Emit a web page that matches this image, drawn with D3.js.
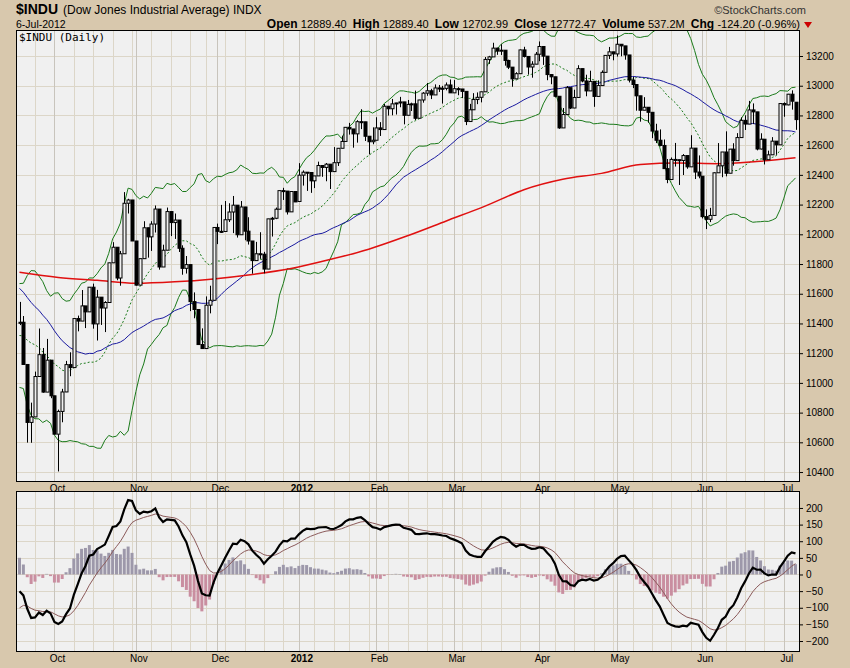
<!DOCTYPE html>
<html><head><meta charset="utf-8">
<script src="https://cdn.jsdelivr.net/npm/d3@7"></script>
<style>body{margin:0;background:#d8c8ad;font-family:Arial,"Liberation Sans",sans-serif}</style>
</head><body><svg id="c" width="850" height="668"></svg>
<script>
// trading days per month (2011-09 .. 2012-07)
const months = [
 ["2011-09",[20,21,22,23,26,27,28,29,30]],
 ["2011-10",[3,4,5,6,7,10,11,12,13,14,17,18,19,20,21,24,25,26,27,28,31]],
 ["2011-11",[1,2,3,4,7,8,9,10,11,14,15,16,17,18,21,22,23,25,28,29,30]],
 ["2011-12",[1,2,5,6,7,8,9,12,13,14,15,16,19,20,21,22,23,27,28,29,30]],
 ["2012-01",[3,4,5,6,9,10,11,12,13,17,18,19,20,23,24,25,26,27,30,31]],
 ["2012-02",[1,2,3,6,7,8,9,10,13,14,15,16,17,21,22,23,24,27,28,29]],
 ["2012-03",[1,2,5,6,7,8,9,12,13,14,15,16,19,20,21,22,23,26,27,28,29,30]],
 ["2012-04",[2,3,4,5,9,10,11,12,13,16,17,18,19,20,23,24,25,26,27,30]],
 ["2012-05",[1,2,3,4,7,8,9,10,11,14,15,16,17,18,21,22,23,24,25,29,30,31]],
 ["2012-06",[1,4,5,6,7,8,11,12,13,14,15,18,19,20,21,22,25,26,27,28,29]],
 ["2012-07",[2,3,5,6]]
];
const monthLabels = ["Oct","Nov","Dec","2012","Feb","Mar","Apr","May","Jun","Jul"];
// warm-up closes (Jul 1 - Sep 19 2011), used only for indicators
const warmup = [12582,12570,12627,12720,12657,12505,12447,12492,12437,12480,12385,12588,12572,12724,12681,12592,12501,12303,12241,12143,
 12132,11866,11896,11383,11444,10809,11239,10719,11143,11269,11482,11405,11410,10990,10817,10854,11176,11320,11149,11284,11539,11559,11613,
 11494,11240,11139,11414,11295,10992,11061,11105,11247,11433,11509,11401];
const closes = [11408,11124,10734,10771,11043,11190,10938,11153,10913,
 10655,10808,10939,11123,11103,11433,11416,11518,11478,11644,11397,11577,11504,11541,11808,11913,11706,11869,12209,12231,11955,
 11658,11836,12044,11983,12069,12170,11780,11893,12153,12079,12096,11906,11771,11796,11547,11494,11258,11231,11523,11556,12046,
 12020,12019,12098,12150,12196,11997,12184,12021,11955,11823,11869,11866,11766,12104,12108,12169,12294,12291,12151,12288,12218,
 12398,12418,12416,12360,12393,12463,12450,12472,12422,12482,12579,12625,12720,12709,12676,12758,12757,12660,12623,12633,
 12716,12705,12862,12845,12878,12884,12891,12801,12874,12878,12781,12904,12950,12966,12938,12985,12983,12982,13005,12952,
 12980,12978,12962,12759,12838,12907,12922,12959,13177,13194,13253,13233,13239,13170,13125,13046,13081,13241,13197,13126,13145,13212,
 13264,13199,13075,13060,12929,12716,12806,12987,12850,12921,13115,13032,12965,13029,12928,13001,13090,13204,13228,13214,
 13279,13268,13207,13038,13008,12932,12835,12855,12821,12695,12633,12598,12442,12369,12504,12502,12497,12530,12454,12580,12419,12393,
 12119,12101,12127,12414,12461,12554,12411,12573,12496,12651,12767,12742,12837,12824,12574,12640,12502,12535,12627,12602,12880,
 12871,12943,12896,12772];
const opens = [11401,11408,11124,10734,10771,11043,11190,10938,11153,
 10913,10655,10808,10939,11123,11103,11433,11416,11518,11478,11644,11397,11577,11504,11541,11808,11913,11706,11869,12209,12231,
 11955,11658,11836,12044,11983,12069,12170,11780,11893,12153,12079,12096,11906,11771,11796,11547,11494,11258,11231,11523,11556,
 12046,12020,12019,12098,12150,12196,11997,12184,12021,11955,11823,11869,11866,11766,12104,12108,12169,12294,12291,12151,12288,
 12221,12398,12418,12416,12360,12393,12463,12450,12472,12422,12482,12579,12625,12720,12709,12676,12758,12757,12660,12623,
 12633,12716,12705,12862,12845,12878,12884,12891,12801,12874,12878,12781,12904,12950,12966,12938,12985,12983,12982,13005,
 12952,12980,12978,12962,12759,12838,12907,12922,12959,13177,13194,13253,13233,13239,13170,13125,13046,13081,13241,13197,13126,13145,
 13212,13264,13199,13075,13060,12929,12716,12806,12987,12850,12921,13115,13032,12965,13029,12928,13001,13090,13204,13228,
 13214,13279,13268,13207,13038,13008,12932,12835,12855,12821,12695,12633,12598,12442,12369,12504,12502,12497,12530,12454,12580,12419,
 12391,12119,12101,12127,12414,12461,12554,12411,12573,12496,12651,12767,12742,12837,12824,12574,12640,12502,12535,12627,12602,
 12880,12871,12943,12889];
const highs = [11545,11450,11124,10867,11076,11366,11235,11296,11154,
 10913,10820,10960,11148,11206,11434,11453,11625,11518,11645,11668,11626,11577,11550,11809,11947,11913,11888,12284,12239,12231,
 11955,11836,12088,12044,12088,12194,12170,11930,12180,12153,12140,12096,11926,11854,11796,11609,11494,11367,11582,11654,12046,
 12072,12198,12224,12209,12258,12196,12224,12184,12115,11955,11949,12014,11882,12104,12117,12180,12294,12313,12291,12288,12288,
 12479,12430,12418,12417,12393,12489,12463,12480,12472,12587,12579,12663,12720,12750,12709,12768,12842,12757,12660,12720,
 12788,12755,12877,12862,12911,12885,12925,12891,12904,12886,12967,12905,12957,13018,12979,13009,13005,12999,13022,13042,
 13038,12990,12978,12962,12878,12950,12955,12960,13193,13201,13289,13256,13279,13239,13175,13125,13091,13244,13262,13197,13165,13227,
 13298,13264,13199,13075,13060,12929,12850,12998,12987,12973,13138,13115,13074,13101,13029,13036,13103,13205,13261,13228,
 13338,13279,13268,13207,13060,13008,12932,12923,12855,12821,12744,12706,12638,12507,12517,12615,12502,12540,12530,12667,12580,12531,
 12391,12168,12178,12417,12614,12554,12693,12575,12613,12681,12787,12801,12898,12881,12824,12680,12640,12563,12654,12627,12880,
 12888,12945,12969,12889];
const lows = [11389,11121,10598,10597,10770,11043,10934,10938,10897,
 10654,10404,10735,10938,11045,11104,11347,11416,11369,11478,11365,11285,11390,11342,11541,11808,11691,11654,11869,12140,11955,
 11655,11658,11836,11843,11888,12012,11762,11780,11893,11988,11969,11881,11728,11736,11483,11435,11258,11231,11231,11468,11556,
 11934,12009,12019,12083,12008,11978,11997,11960,11931,11735,11823,11835,11737,11766,11985,12102,12169,12231,12133,12151,12217,
 12221,12328,12292,12279,12311,12393,12387,12357,12305,12422,12460,12579,12623,12671,12583,12617,12708,12628,12538,12606,
 12633,12662,12705,12799,12801,12806,12855,12740,12801,12830,12769,12781,12886,12932,12910,12938,12958,12880,12969,12952,
 12952,12936,12917,12735,12759,12838,12876,12888,12959,13147,13194,13208,13207,13135,13112,12993,13046,13081,13190,13075,13054,13145,
 13165,13140,13037,13010,12921,12710,12716,12806,12843,12849,12921,13023,12929,12965,12858,12928,13001,13088,13180,13171,
 13196,13198,13175,13022,12984,12832,12758,12835,12751,12647,12614,12592,12442,12344,12369,12456,12332,12399,12441,12454,12372,12377,
 12107,12035,12082,12127,12414,12384,12390,12411,12462,12496,12651,12702,12742,12742,12565,12571,12470,12502,12535,12535,12602,
 12791,12868,12839,12703];
const ma200Idx = [0,10,20,30,40,50,60,70,80,90,100,110,120,130,140,150,160,170,180,190,200];
const ma200Val = [11745,11710,11690,11670,11680,11700,11730,11770,11830,11900,11990,12090,12190,12300,12370,12410,12470,12480,12475,12490,12515];
const priceTicks = d3.range(10400,13201,200);
const macdTicks = [200,150,100,50,0,-50,-100,-150,-200];

const dates=[]; months.forEach(([m,ds])=>ds.forEach(d=>dates.push(new Date(m+"-"+String(d).padStart(2,"0")+"T12:00"))));
const N = closes.length;
const all = warmup.concat(closes), W = warmup.length;
function sma(arr,n,i){let s=0;for(let k=i-n+1;k<=i;k++)s+=arr[k];return s/n;}
const ma20=[],ma50=[],bbU=[],bbL=[];
for(let i=0;i<N;i++){const j=i+W;const m=sma(all,20,j);let v=0;for(let k=j-19;k<=j;k++)v+=(all[k]-m)**2;const sd=Math.sqrt(v/20);
 ma20.push(m);bbU.push(m+2*sd);bbL.push(m-2*sd);ma50.push(sma(all,50,j));}
function ema(arr,n){const a=2/(n+1);const out=[arr[0]];for(let i=1;i<arr.length;i++)out.push(a*arr[i]+(1-a)*out[i-1]);return out;}
const e12=ema(all,12),e26=ema(all,26);const macdAll=e12.map((v,i)=>v-e26[i]);const sigAll=ema(macdAll,9);
const macd=macdAll.slice(W),sig=sigAll.slice(W),hist=macd.map((v,i)=>v-sig[i]);

const svg=d3.select("#c");
const L=16,R=800,T1=30,B1=482,T2=491,B2=652;
const x=d3.scaleLinear().domain([0,N-1]).range([19.5,795.5]);
const y=d3.scaleLinear().domain([10333,13375]).range([B1,T1]);
const y2=d3.scaleLinear().domain([-233,251]).range([B2,T2]);

// header
const t1=svg.append("text").attr("x",16).attr("y",14).attr("font-size",14).attr("font-weight","bold").text("$INDU");
const w1=t1.node().getComputedTextLength();
svg.append("text").attr("x",16+w1+5).attr("y",14).attr("font-size",12).text("(Dow Jones Industrial Average) INDX");
svg.append("text").attr("x",16).attr("y",28).attr("font-size",10.5).text("6-Jul-2012");
svg.append("text").attr("x",806).attr("y",14).attr("font-size",11).attr("text-anchor","end").attr("fill","#333").text("©StockCharts.com");
const info=svg.append("text").attr("x",800).attr("y",28).attr("font-size",11).attr("text-anchor","end");
[["Open ",1],["12889.40  ",0],["High ",1],["12889.40  ",0],["Low ",1],["12702.99  ",0],["Close ",1],["12772.47  ",0],["Volume ",1],["537.2M  ",0],["Chg ",1],["-124.20 (-0.96%)",0]]
 .forEach(([t,b])=>info.append("tspan").attr("font-weight",b?"bold":"normal").attr("font-size",b?12:11).attr("xml:space","preserve").text(t));
svg.append("path").attr("d","M804,22 L812,22 L808,28 Z").attr("fill","#c00");

function panel(t,b,yy,ticks,fmt){
 svg.append("rect").attr("x",L).attr("y",t).attr("width",R-L).attr("height",b-t).attr("fill","#f0f0f0");
 const g=svg.append("g");
 ticks.forEach(v=>g.append("line").attr("x1",L).attr("x2",R).attr("y1",Math.round(yy(v))+.5).attr("y2",Math.round(yy(v))+.5).attr("stroke","#dcd6c8"));
 for(let i=0;i<N;i++){const d=dates[i],p=i?dates[i-1]:null;
  const newMonth=!p||p.getMonth()!==d.getMonth(), newWeek=p&&(d.getDay()<p.getDay()||d-p>4*864e5);
  if(newMonth&&i>0) g.append("line").attr("x1",Math.round(x(i))+.5).attr("x2",Math.round(x(i))+.5).attr("y1",t).attr("y2",b).attr("stroke","#c8c4bc");
  else if(newWeek) g.append("line").attr("x1",Math.round(x(i))+.5).attr("x2",Math.round(x(i))+.5).attr("y1",t).attr("y2",b).attr("stroke","#dcd6c8");
 }
 const ax=svg.append("g").attr("transform",`translate(${R},0)`).call(d3.axisRight(yy).tickValues(ticks).tickSize(3).tickFormat(fmt));
 ax.select(".domain").remove();ax.selectAll("text").attr("font-size",10).attr("fill","#000").attr("font-family","Arial");
 ax.selectAll("line").attr("stroke","#000");
}
panel(T1,B1,y,priceTicks,d3.format("d"));
panel(T2,B2,y2,macdTicks,d3.format("d"));

// month labels
const mStarts=[];for(let i=1;i<N;i++)if(dates[i].getMonth()!==dates[i-1].getMonth())mStarts.push(i);
mStarts.forEach((i,k)=>{[B1+10,B2+10].forEach(yy=>svg.append("text").attr("x",x(i)+3).attr("y",yy).attr("font-size",10)
 .attr("font-weight",monthLabels[k]==="2012"?"bold":"normal").attr("text-anchor","middle").attr("font-family","Arial").text(monthLabels[k]));});

const line=(arr,sc)=>d3.line().x((d,i)=>x(i)).y(d=>sc(d))(arr);
svg.append("clipPath").attr("id","cp").append("rect").attr("x",L).attr("y",T1).attr("width",R-L).attr("height",B1-T1);
const mg=svg.append("g").attr("clip-path","url(#cp)");
mg.append("path").attr("d",line(bbU,y)).attr("fill","none").attr("stroke","#1a7a1a").attr("stroke-width",1);
mg.append("path").attr("d",line(bbL,y)).attr("fill","none").attr("stroke","#1a7a1a").attr("stroke-width",1);
mg.append("path").attr("d",line(ma20,y)).attr("fill","none").attr("stroke","#1a7a1a").attr("stroke-dasharray","2,2");
mg.append("path").attr("d",line(ma50,y)).attr("fill","none").attr("stroke","#1a1aa0");
mg.append("path").attr("d",d3.line().curve(d3.curveMonotoneX).x((d,k)=>x(ma200Idx[k])).y(d=>y(d))(ma200Val)).attr("fill","none").attr("stroke","#e01010").attr("stroke-width",1.5);
for(let i=0;i<N;i++){const cx=Math.round(x(i))+.5,o=opens[i],c=closes[i];
 mg.append("line").attr("x1",cx).attr("x2",cx).attr("y1",y(highs[i])).attr("y2",y(lows[i])).attr("stroke","#000");
 const top=y(Math.max(o,c)),bot=y(Math.min(o,c));
 mg.append("rect").attr("x",cx-1.5).attr("y",top).attr("width",3).attr("height",Math.max(1,bot-top))
  .attr("fill",c>=o?"#f0f0f0":"#000").attr("stroke","#000").attr("stroke-width",1);
}
svg.append("text").attr("x",19).attr("y",41).attr("font-size",11).attr("font-family","'DejaVu Sans Mono',monospace").text("$INDU (Daily)");

// MACD
const hg=svg.append("g");
hist.forEach((h,i)=>hg.append("rect").attr("x",x(i)-1.5).attr("width",3).attr("y",y2(Math.max(0,h))).attr("height",Math.abs(y2(h)-y2(0)))
 .attr("fill",h>=0?"#9d98aa":"#c98ea0"));
svg.append("path").attr("d",line(sig,y2)).attr("fill","none").attr("stroke","#8b5a5a").attr("stroke-width",1);
svg.append("path").attr("d",line(macd,y2)).attr("fill","none").attr("stroke","#000").attr("stroke-width",2.2);

[[T1,B1],[T2,B2]].forEach(([t,b])=>svg.append("rect").attr("x",L+.5).attr("y",t+.5).attr("width",R-L-1).attr("height",b-t-1).attr("fill","none").attr("stroke","#000"));
</script></body></html>
